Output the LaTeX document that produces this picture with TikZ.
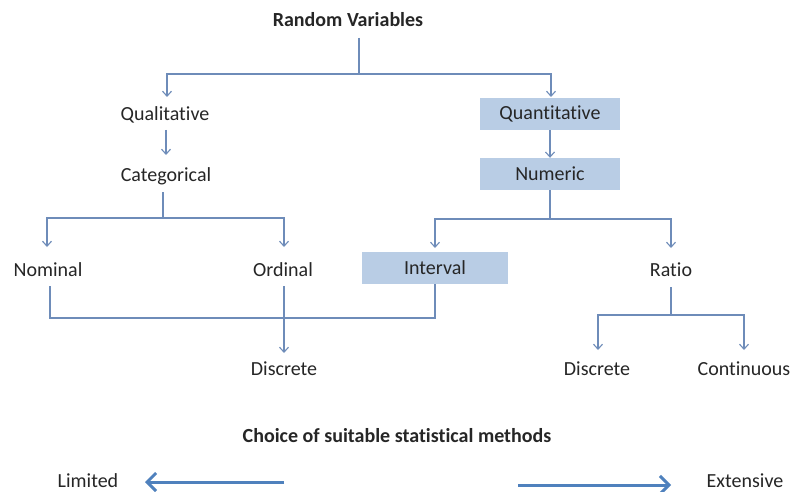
\documentclass[tikz,border=0pt]{standalone}
\usepackage{fontspec}
\setmainfont{Carlito}[Ligatures={NoCommon}]
\usetikzlibrary{arrows.meta}
\definecolor{lineblue}{RGB}{110,140,185}
\definecolor{boxblue}{RGB}{185,205,229}
\definecolor{bigarrow}{RGB}{79,129,189}
\begin{document}
\begin{tikzpicture}[x=1pt,y=-1pt,
  every node/.style={font=\fontsize{20}{24}\selectfont, text=black!85, inner sep=0pt},
  boxed/.style={fill=boxblue, minimum width=140pt, minimum height=32pt},
  conn/.style={draw=lineblue, line width=1.1pt},
  arr/.style={conn, -{Straight Barb[length=5pt,width=9pt,line width=1.1pt]}},
  bigarr/.style={draw=bigarrow, line width=3pt, -{Straight Barb[length=9pt,width=18pt,line width=3pt]}}]
\useasboundingbox (0,0) rectangle (792,492);
\fill[white] (0,0) rectangle (792,492);
% nodes
\node[font=\fontsize{20}{24}\selectfont\bfseries] (rv) at (348,20) {Random Variables};
\node (qual) at (165,115) {Qualitative};
\node[boxed] (quant) at (550,114) {Quantitative};
\node (cat) at (166,176) {Categorical};
\node[boxed] (num) at (550,174) {Numeric};
\node (nom) at (48,270) {Nominal};
\node (ord) at (283,270) {Ordinal};
\node[boxed, minimum width=146pt] (int) at (435,268) {Interval};
\node (ratio) at (671,270) {Ratio};
\node (disc1) at (284,369) {Discrete};
\node (disc2) at (597,369) {Discrete};
\node (cont) at (744,369) {Continuous};
\node[font=\fontsize{20}{24}\selectfont\bfseries] (choice) at (397,436) {Choice of suitable statistical methods};
\node (lim) at (88,481) {Limited};
\node (ext) at (745,481) {Extensive};
% coordinates
\coordinate (rvb) at (359,38);
\coordinate (rvh) at (359,74);
\coordinate (qualt) at (167,97);
\coordinate (quantt) at (551,97);
\coordinate (qualb) at (166,130);
\coordinate (catt) at (166,155);
\coordinate (catb) at (163,192);
\coordinate (cath) at (163,218);
\coordinate (nomt) at (47,247);
\coordinate (ordt) at (284,247);
\coordinate (numh) at (550,219);
\coordinate (intt) at (435,248);
\coordinate (ratiot) at (671,248);
\coordinate (nomb) at (50,286);
\coordinate (ratiob) at (671,287);
\coordinate (ratioh) at (671,315);
\coordinate (disc2t) at (598,350);
\coordinate (contt) at (744,350);
\coordinate (ordb) at (284,286);
\coordinate (disc1t) at (284,353);
\coordinate (la) at (284,482);
\coordinate (lb) at (145,482);
\coordinate (ea) at (518,485);
\coordinate (eb) at (671,485);
% connectors
\draw[conn] (rvb) -- (rvh);
\draw[arr] (rvh) -| (qualt);
\draw[arr] (rvh) -| (quantt);
\draw[arr] (qualb) -- (catt);
\draw[arr] (quant.south) -- (num.north);
\draw[conn] (catb) -- (cath);
\draw[arr] (cath) -| (nomt);
\draw[arr] (cath) -| (ordt);
\draw[conn] (num.south) -- (numh);
\draw[arr] (numh) -| (intt);
\draw[arr] (numh) -| (ratiot);
\draw[conn] (nomb) |- (435,318) -- (int.south);
\draw[arr] (ordb) -- (disc1t);
\draw[conn] (ratiob) -- (ratioh);
\draw[arr] (ratioh) -| (disc2t);
\draw[arr] (ratioh) -| (contt);
\draw[bigarr] (la) -- (lb);
\draw[bigarr] (ea) -- (eb);
\end{tikzpicture}
\end{document}
